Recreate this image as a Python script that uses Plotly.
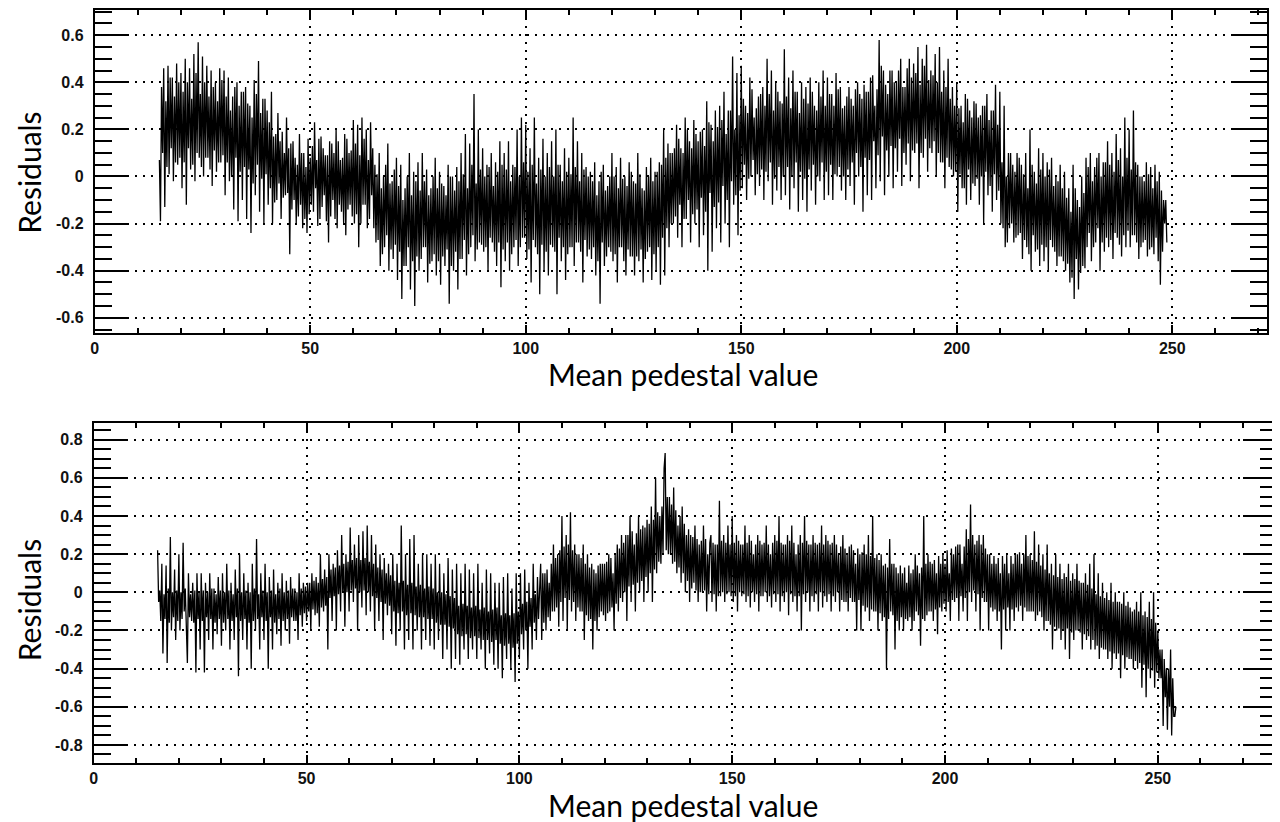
import numpy as np
import plotly.graph_objects as go

# values, every 0.5 of pedestal value starting at 15:
# the tips of the spikes (high, low pairs) ...
top_spikes = [
    0.07, -0.19, 0.46, -0.13, 0.47, 0.01, 0.42, -0.02, 0.48, 0.05,
    0.44, -0.05, 0.5, -0.12, 0.46, 0.03, 0.52, -0.02, 0.57, 0.08,
    0.51, 0.0, 0.47, 0.08, 0.45, -0.04, 0.4, 0.02, 0.46, 0.06,
    0.45, -0.08, 0.42, -0.02, 0.34, -0.14, 0.4, -0.19, 0.36, -0.1,
    0.38, -0.18, 0.3, -0.24, 0.41, -0.08, 0.49, -0.15, 0.33, -0.2,
    0.28, -0.12, 0.36, -0.2, 0.18, -0.1, 0.15, -0.18, 0.1, -0.08,
    0.12, -0.33, 0.15, -0.1, 0.05, -0.17, 0.1, -0.22, 0.04, -0.24,
    0.08, -0.12, 0.23, -0.05, 0.16, -0.18, 0.12, -0.08, 0.09, -0.28,
    0.14, -0.1, 0.2, -0.22, 0.07, -0.15, 0.18, -0.25, 0.1, -0.12,
    0.24, -0.2, 0.22, -0.3, 0.25, -0.12, 0.2, -0.22, 0.23, -0.08,
    0.05, -0.28, 0.1, -0.38, 0.0, -0.3, 0.14, -0.4, -0.02, -0.35,
    0.08, -0.44, 0.05, -0.52, -0.05, -0.38, 0.1, -0.48, 0.02, -0.55,
    0.06, -0.4, 0.1, -0.3, 0.03, -0.45, -0.05, -0.36, 0.08, -0.42,
    0.02, -0.46, -0.04, -0.38, 0.05, -0.54, 0.0, -0.4, 0.04, -0.48,
    0.1, -0.35, 0.18, -0.42, 0.14, -0.3, 0.35, -0.36, 0.2, -0.28,
    0.12, -0.32, 0.05, -0.4, 0.1, -0.28, 0.06, -0.38, 0.15, -0.47,
    0.1, -0.36, 0.15, -0.4, 0.05, -0.3, 0.2, -0.38, 0.25, -0.26,
    0.22, -0.35, 0.12, -0.45, 0.25, -0.3, 0.08, -0.5, 0.16, -0.4,
    0.1, -0.42, 0.15, -0.3, 0.2, -0.5, 0.05, -0.36, 0.12, -0.44,
    0.08, -0.3, 0.25, -0.38, 0.15, -0.28, 0.1, -0.45, 0.04, -0.34,
    0.02, -0.35, 0.06, -0.42, -0.02, -0.54, 0.05, -0.38, -0.04, -0.3,
    0.1, -0.36, 0.04, -0.45, 0.08, -0.3, 0.0, -0.42, 0.06, -0.34,
    -0.02, -0.42, 0.1, -0.36, -0.05, -0.45, 0.04, -0.32, 0.08, -0.44,
    0.02, -0.4, 0.06, -0.46, 0.2, -0.42, 0.14, -0.3, 0.1, -0.2,
    0.22, -0.26, 0.12, -0.3, 0.25, -0.18, 0.15, -0.28, 0.24, -0.2,
    0.15, -0.3, 0.2, -0.25, 0.32, -0.4, 0.22, -0.32, 0.28, -0.22,
    0.3, -0.28, 0.36, -0.2, 0.28, -0.3, 0.51, -0.12, 0.44, -0.25,
    0.47, -0.05, 0.3, -0.1, 0.42, 0.0, 0.25, -0.08, 0.34, -0.04,
    0.38, -0.1, 0.5, -0.02, 0.45, -0.12, 0.4, -0.06, 0.32, -0.1,
    0.54, -0.08, 0.42, -0.14, 0.45, -0.05, 0.36, -0.15, 0.4, -0.1,
    0.38, -0.15, 0.42, -0.06, 0.3, -0.12, 0.4, -0.02, 0.45, -0.1,
    0.42, -0.08, 0.35, -0.1, 0.44, 0.0, 0.38, -0.06, 0.3, -0.1,
    0.38, -0.04, 0.3, -0.12, 0.4, 0.0, 0.33, -0.15, 0.36, -0.08,
    0.42, -0.1, 0.3, -0.05, 0.58, -0.02, 0.45, -0.08, 0.35, 0.0,
    0.45, -0.05, 0.4, 0.02, 0.5, -0.04, 0.38, 0.05, 0.5, -0.02,
    0.48, 0.1, 0.55, -0.05, 0.5, 0.08, 0.56, 0.02, 0.45, 0.1,
    0.52, 0.0, 0.55, 0.06, 0.45, -0.05, 0.5, 0.04, 0.38, 0.0,
    0.4, -0.15, 0.3, -0.05, 0.35, -0.12, 0.28, -0.1, 0.32, -0.04,
    0.25, -0.12, 0.3, -0.2, 0.35, -0.08, 0.28, -0.15, 0.39, -0.1,
    0.36, -0.2, 0.3, -0.3, 0.1, -0.22, 0.05, -0.28, 0.1, -0.25,
    0.05, -0.35, 0.1, -0.3, 0.2, -0.4, 0.02, -0.32, 0.12, -0.38,
    0.1, -0.36, 0.06, -0.4, 0.08, -0.3, 0.0, -0.38, 0.05, -0.34,
    0.02, -0.4, -0.05, -0.45, 0.05, -0.52, -0.1, -0.48, 0.0, -0.38,
    0.08, -0.3, 0.1, -0.36, 0.04, -0.28, 0.1, -0.4, 0.06, -0.32,
    0.15, -0.3, 0.1, -0.35, 0.18, -0.26, 0.12, -0.34, 0.25, -0.3,
    0.2, -0.3, 0.28, -0.25, 0.05, -0.35, 0.0, -0.28, 0.06, -0.34,
    0.04, -0.3, 0.05, -0.26, 0.02, -0.46, -0.1, -0.2,
]
# ... and the edges of the dense band between them
top_core = [
    0.38, 0.1, 0.32, 0.04, 0.42, 0.12, 0.34, 0.06, 0.4, 0.08,
    0.36, 0.06, 0.4, 0.12, 0.33, 0.05, 0.44, 0.1, 0.35, 0.04,
    0.4, 0.08, 0.34, 0.03, 0.38, 0.11, 0.32, 0.06, 0.41, 0.09,
    0.34, 0.06, 0.28, 0.0, 0.38, 0.08, 0.3, 0.02, 0.36, 0.04,
    0.31, 0.03, 0.25, -0.03, 0.35, 0.05, 0.27, -0.01, 0.33, 0.01,
    0.23, -0.05, 0.17, -0.11, 0.27, -0.03, 0.19, -0.09, 0.25, -0.07,
    0.14, -0.14, 0.08, -0.2, 0.18, -0.12, 0.1, -0.18, 0.16, -0.16,
    0.13, -0.15, 0.07, -0.21, 0.17, -0.13, 0.09, -0.19, 0.15, -0.17,
    0.1, -0.18, 0.15, -0.12, 0.08, -0.2, 0.16, -0.14, 0.11, -0.17,
    0.14, -0.16, 0.09, -0.2, 0.16, -0.12, 0.07, -0.18, 0.12, -0.22,
    0.01, -0.27, -0.05, -0.33, 0.05, -0.25, -0.03, -0.31, 0.03, -0.29,
    -0.04, -0.32, -0.1, -0.38, 0.0, -0.3, -0.08, -0.36, -0.02, -0.34,
    -0.06, -0.35, -0.02, -0.3, -0.08, -0.37, 0.0, -0.33, -0.05, -0.36,
    -0.03, -0.34, -0.08, -0.31, 0.0, -0.38, -0.06, -0.32, -0.02, -0.35,
    0.01, -0.27, -0.05, -0.33, 0.05, -0.25, -0.03, -0.31, 0.03, -0.29,
    0.0, -0.3, 0.04, -0.26, -0.04, -0.32, 0.02, -0.28, 0.05, -0.31,
    0.03, -0.28, -0.02, -0.33, 0.04, -0.27, 0.0, -0.3, 0.06, -0.26,
    0.02, -0.31, 0.05, -0.27, -0.03, -0.33, 0.03, -0.29, 0.0, -0.32,
    0.04, -0.29, 0.0, -0.32, 0.05, -0.26, -0.02, -0.3, 0.02, -0.33,
    0.01, -0.3, 0.04, -0.28, -0.02, -0.32, 0.03, -0.27, 0.0, -0.31,
    -0.02, -0.3, -0.08, -0.36, 0.02, -0.28, -0.06, -0.34, 0.0, -0.32,
    0.0, -0.33, -0.05, -0.3, -0.01, -0.36, -0.04, -0.31, 0.02, -0.34,
    -0.03, -0.34, 0.01, -0.31, -0.06, -0.35, 0.0, -0.3, -0.02, -0.33,
    0.02, -0.3, 0.05, -0.26, 0.08, -0.22, 0.1, -0.2, 0.12, -0.17,
    0.16, -0.12, 0.1, -0.18, 0.2, -0.1, 0.12, -0.16, 0.18, -0.14,
    0.19, -0.09, 0.13, -0.15, 0.23, -0.07, 0.15, -0.13, 0.21, -0.11,
    0.24, -0.04, 0.18, -0.1, 0.28, -0.02, 0.2, -0.08, 0.26, -0.06,
    0.33, 0.05, 0.27, -0.01, 0.37, 0.07, 0.29, 0.01, 0.35, 0.03,
    0.3, 0.02, 0.35, 0.06, 0.28, -0.01, 0.36, 0.04, 0.31, 0.0,
    0.34, 0.04, 0.29, 0.0, 0.36, 0.06, 0.27, 0.02, 0.33, -0.01,
    0.31, 0.03, 0.36, 0.05, 0.28, 0.0, 0.34, 0.06, 0.3, 0.02,
    0.35, 0.05, 0.3, 0.01, 0.37, 0.04, 0.29, 0.0, 0.34, 0.03,
    0.33, 0.06, 0.37, 0.1, 0.35, 0.04, 0.39, 0.08, 0.36, 0.07,
    0.43, 0.15, 0.37, 0.09, 0.47, 0.17, 0.39, 0.11, 0.45, 0.13,
    0.4, 0.12, 0.45, 0.16, 0.38, 0.1, 0.46, 0.14, 0.42, 0.11,
    0.44, 0.14, 0.39, 0.1, 0.47, 0.16, 0.41, 0.12, 0.43, 0.15,
    0.4, 0.1, 0.36, 0.06, 0.38, 0.08, 0.33, 0.03, 0.3, 0.02,
    0.29, 0.01, 0.23, -0.05, 0.33, 0.03, 0.25, -0.03, 0.31, -0.01,
    0.26, 0.0, 0.3, 0.02, 0.24, -0.04, 0.28, 0.01, 0.22, -0.06,
    0.06, -0.22, 0.0, -0.28, 0.1, -0.2, 0.02, -0.26, 0.08, -0.24,
    0.01, -0.27, -0.05, -0.33, 0.05, -0.25, -0.03, -0.31, 0.03, -0.29,
    0.0, -0.3, 0.03, -0.27, -0.04, -0.32, -0.02, -0.34, -0.05, -0.36,
    -0.09, -0.37, -0.15, -0.43, -0.05, -0.35, -0.13, -0.41, -0.07, -0.39,
    0.04, -0.24, -0.02, -0.3, 0.08, -0.22, 0.0, -0.28, 0.06, -0.26,
    0.05, -0.27, 0.02, -0.24, 0.07, -0.29, 0.0, -0.25, 0.08, -0.23,
    0.03, -0.25, 0.06, -0.28, 0.0, -0.3, -0.02, -0.27, 0.01, -0.31,
    -0.05, -0.33, -0.02, -0.36, -0.06, -0.32, -0.1, -0.28,
]

bot_spikes = [
    0.22, -0.05, 0.15, -0.32, 0.14, -0.37, 0.29, -0.2, 0.12, -0.25,
    0.2, -0.2, 0.26, -0.1, -0.37, 0.1, -0.15, 0.05, -0.42, 0.1,
    -0.3, 0.1, -0.42, 0.05, -0.25, 0.1, -0.3, 0.02, -0.22, 0.08,
    -0.28, 0.1, -0.2, 0.15, -0.3, 0.05, -0.25, 0.12, -0.44, 0.2,
    -0.25, 0.1, -0.3, 0.05, -0.4, 0.15, -0.2, 0.28, -0.3, 0.1,
    -0.25, 0.15, -0.4, 0.08, -0.3, 0.12, -0.22, 0.05, -0.28, 0.1,
    -0.2, 0.06, -0.27, 0.08, -0.15, 0.02, -0.25, 0.1, -0.18, 0.05,
    -0.15, 0.05, -0.2, 0.1, -0.12, 0.08, -0.18, 0.2, -0.1, 0.12,
    -0.3, 0.2, -0.15, 0.15, -0.2, 0.22, -0.1, 0.3, -0.18, 0.2,
    -0.1, 0.34, -0.05, 0.25, -0.2, 0.3, -0.08, 0.32, -0.12, 0.35,
    -0.1, 0.3, -0.2, 0.25, -0.15, 0.2, -0.25, 0.18, -0.12, 0.15,
    -0.22, 0.2, -0.28, 0.15, -0.2, 0.35, -0.3, 0.2, -0.25, 0.28,
    -0.3, 0.3, -0.2, 0.15, -0.3, 0.2, -0.25, 0.2, -0.28, 0.15,
    -0.3, 0.2, -0.25, 0.15, -0.35, 0.1, -0.3, 0.18, -0.4, 0.12,
    -0.35, 0.15, -0.38, 0.1, -0.3, 0.15, -0.35, 0.12, -0.3, 0.1,
    -0.35, 0.15, -0.3, 0.05, -0.4, 0.12, -0.32, 0.1, -0.38, 0.05,
    -0.4, 0.05, -0.45, 0.08, -0.35, 0.1, -0.4, 0.02, -0.47, 0.1,
    -0.35, 0.1, -0.3, 0.12, -0.4, 0.05, -0.3, 0.15, -0.25, 0.08,
    0.15, -0.25, 0.1, -0.2, 0.05, -0.15, 0.25, -0.1, 0.2, -0.18,
    0.4, -0.15, 0.3, -0.2, 0.42, -0.1, 0.25, -0.15, 0.2, -0.1,
    0.25, -0.25, 0.2, -0.15, 0.15, -0.3, 0.1, -0.2, 0.15, -0.1,
    0.15, -0.15, 0.2, -0.1, 0.1, -0.2, 0.25, -0.1, 0.3, -0.05,
    0.3, -0.15, 0.4, -0.05, 0.25, -0.1, 0.4, 0.0, 0.35, -0.05,
    0.38, 0.0, 0.45, -0.05, 0.6, 0.1, 0.4, 0.15, 0.65, 0.73,
    0.2, 0.5, 0.15, 0.55, 0.1, 0.35, 0.05, 0.45, 0.0, 0.3,
    -0.05, 0.3, 0.05, 0.35, -0.05, 0.25, 0.0, 0.35, -0.1, 0.2,
    0.3, -0.05, 0.25, -0.1, 0.48, -0.02, 0.3, -0.05, 0.35, 0.0,
    0.4, -0.05, 0.3, -0.1, 0.25, -0.02, 0.35, -0.05, 0.3, -0.08,
    0.2, -0.05, 0.3, -0.1, 0.25, -0.02, 0.35, -0.05, 0.2, -0.08,
    0.3, -0.05, 0.4, -0.1, 0.25, -0.05, 0.3, -0.12, 0.35, -0.05,
    0.2, -0.1, 0.3, -0.2, 0.4, -0.05, 0.25, -0.1, 0.3, -0.05,
    0.25, -0.1, 0.35, -0.08, 0.3, -0.05, 0.25, -0.1, 0.3, -0.05,
    0.2, -0.1, 0.3, -0.05, 0.2, -0.1, 0.25, -0.05, 0.15, -0.2,
    0.2, -0.2, 0.25, -0.1, 0.3, -0.15, 0.4, -0.1, 0.2, -0.2,
    0.2, -0.15, 0.15, -0.4, 0.28, -0.1, 0.15, -0.3, 0.1, -0.2,
    0.1, -0.2, 0.05, -0.15, 0.1, -0.2, 0.2, -0.1, 0.1, -0.28,
    0.4, -0.15, 0.2, -0.1, 0.15, -0.15, 0.1, -0.22, 0.15, -0.1,
    0.15, -0.1, 0.1, -0.15, 0.2, -0.05, 0.25, -0.15, 0.15, -0.1,
    0.33, -0.15, 0.46, -0.05, 0.25, -0.1, 0.3, -0.2, 0.3, -0.05,
    0.2, -0.2, 0.15, -0.1, 0.15, -0.15, 0.1, -0.3, 0.15, -0.2,
    0.1, -0.2, 0.15, -0.15, 0.2, -0.1, 0.15, -0.15, 0.3, -0.1,
    0.2, -0.1, 0.32, -0.15, 0.25, -0.1, 0.2, -0.2, 0.25, -0.15,
    0.15, -0.3, 0.2, -0.2, 0.15, -0.25, 0.1, -0.3, 0.15, -0.35,
    0.1, -0.25, 0.15, -0.2, 0.05, -0.3, 0.1, -0.25, 0.15, -0.3,
    0.2, -0.3, 0.1, -0.35, 0.05, -0.3, 0.0, -0.35, 0.05, -0.4,
    0.0, -0.35, -0.05, -0.45, 0.0, -0.4, -0.05, -0.35, -0.1, -0.4,
    -0.05, -0.4, 0.0, -0.5, -0.1, -0.55, -0.05, -0.45, 0.0, -0.5,
    -0.2, -0.45, -0.3, -0.7, -0.4, -0.72, -0.3, -0.75, -0.65,
]
bot_core = [
    0.01, -0.15, -0.01, -0.14, 0.02, -0.16, 0.0, -0.13, 0.01, -0.15,
    0.0, -0.14, 0.02, -0.15, -0.01, -0.13, 0.01, -0.16, 0.0, -0.14,
    0.01, -0.15, 0.0, -0.13, 0.02, -0.14, -0.01, -0.16, 0.01, -0.14,
    0.0, -0.16, 0.01, -0.14, -0.01, -0.15, 0.02, -0.13, 0.0, -0.15,
    0.01, -0.14, 0.0, -0.16, 0.02, -0.15, -0.01, -0.14, 0.01, -0.13,
    0.0, -0.15, 0.01, -0.13, -0.01, -0.16, 0.02, -0.14, 0.0, -0.15,
    0.01, -0.14, 0.02, -0.13, 0.0, -0.15, 0.02, -0.12, 0.03, -0.11,
    0.05, -0.1, 0.06, -0.09, 0.05, -0.11, 0.07, -0.08, 0.08, -0.07,
    0.12, -0.03, 0.13, -0.02, 0.14, -0.01, 0.15, 0.0, 0.16, 0.0,
    0.17, 0.01, 0.18, 0.02, 0.17, 0.0, 0.18, 0.01, 0.16, 0.0,
    0.15, -0.02, 0.13, -0.03, 0.12, -0.05, 0.1, -0.06, 0.09, -0.07,
    0.06, -0.1, 0.05, -0.11, 0.06, -0.1, 0.04, -0.12, 0.05, -0.11,
    0.03, -0.12, 0.04, -0.13, 0.02, -0.13, 0.03, -0.14, 0.02, -0.14,
    0.0, -0.16, 0.0, -0.17, -0.01, -0.17, -0.02, -0.18, -0.03, -0.19,
    -0.07, -0.22, -0.06, -0.23, -0.07, -0.22, -0.08, -0.24, -0.07, -0.23,
    -0.09, -0.24, -0.08, -0.25, -0.1, -0.25, -0.09, -0.26, -0.08, -0.25,
    -0.12, -0.27, -0.11, -0.28, -0.12, -0.27, -0.11, -0.29, -0.1, -0.27,
    -0.06, -0.22, -0.05, -0.2, -0.03, -0.18, -0.01, -0.16, 0.01, -0.14,
    0.1, -0.16, 0.12, -0.13, 0.15, -0.1, 0.18, -0.08, 0.22, -0.05,
    0.24, -0.03, 0.25, -0.04, 0.22, -0.05, 0.2, -0.08, 0.18, -0.1,
    0.15, -0.12, 0.13, -0.14, 0.12, -0.15, 0.14, -0.13, 0.15, -0.12,
    0.16, -0.11, 0.18, -0.08, 0.2, -0.06, 0.23, -0.03, 0.26, 0.0,
    0.3, 0.03, 0.32, 0.04, 0.31, 0.05, 0.33, 0.06, 0.34, 0.08,
    0.36, 0.1, 0.38, 0.12, 0.42, 0.16, 0.45, 0.2, 0.5, 0.22,
    0.46, 0.2, 0.43, 0.16, 0.4, 0.13, 0.36, 0.1, 0.33, 0.06,
    0.29, 0.02, 0.28, 0.01, 0.27, 0.0, 0.28, 0.01, 0.26, -0.01,
    0.26, -0.01, 0.25, -0.02, 0.27, 0.0, 0.26, -0.01, 0.25, -0.02,
    0.26, -0.02, 0.27, 0.0, 0.25, -0.01, 0.26, -0.02, 0.27, 0.0,
    0.25, -0.01, 0.27, -0.02, 0.26, 0.0, 0.25, -0.02, 0.26, -0.01,
    0.27, -0.01, 0.26, -0.02, 0.25, 0.0, 0.27, -0.01, 0.26, -0.02,
    0.25, -0.02, 0.26, -0.01, 0.27, 0.0, 0.25, -0.02, 0.26, -0.01,
    0.26, 0.0, 0.25, -0.02, 0.27, -0.01, 0.26, -0.02, 0.25, 0.0,
    0.24, -0.04, 0.23, -0.05, 0.24, -0.03, 0.22, -0.05, 0.23, -0.04,
    0.21, -0.07, 0.2, -0.08, 0.19, -0.09, 0.18, -0.1, 0.17, -0.11,
    0.14, -0.13, 0.13, -0.14, 0.15, -0.12, 0.13, -0.15, 0.14, -0.13,
    0.13, -0.14, 0.14, -0.13, 0.12, -0.15, 0.14, -0.12, 0.13, -0.14,
    0.15, -0.12, 0.16, -0.1, 0.17, -0.09, 0.19, -0.08, 0.2, -0.06,
    0.22, -0.05, 0.23, -0.04, 0.24, -0.03, 0.25, -0.02, 0.24, -0.03,
    0.28, 0.0, 0.3, 0.01, 0.27, -0.01, 0.25, -0.03, 0.23, -0.05,
    0.2, -0.08, 0.19, -0.09, 0.18, -0.1, 0.19, -0.09, 0.2, -0.08,
    0.19, -0.09, 0.2, -0.08, 0.21, -0.07, 0.2, -0.08, 0.19, -0.1,
    0.17, -0.1, 0.16, -0.12, 0.14, -0.13, 0.12, -0.15, 0.1, -0.17,
    0.09, -0.18, 0.08, -0.19, 0.07, -0.2, 0.08, -0.19, 0.06, -0.21,
    0.07, -0.2, 0.06, -0.21, 0.05, -0.22, 0.04, -0.23, 0.02, -0.25,
    -0.01, -0.28, -0.02, -0.29, -0.03, -0.3, -0.04, -0.31, -0.05, -0.32,
    -0.05, -0.32, -0.06, -0.33, -0.07, -0.34, -0.08, -0.35, -0.09, -0.36,
    -0.1, -0.37, -0.12, -0.38, -0.13, -0.4, -0.14, -0.41, -0.16, -0.42,
    -0.3, -0.45, -0.35, -0.55, -0.4, -0.6, -0.45, -0.65, -0.6,
]
x_start = 15.0

x_ticks = [0, 50, 100, 150, 200, 250]
x_labels = ["0", "50", "100", "150", "200", "250"]
y_top_ticks = [-0.6, -0.4, -0.2, 0, 0.2, 0.4, 0.6]
y_top_labels = ["-0.6", "-0.4", "-0.2", "0", "0.2", "0.4", "0.6"]
y_bot_ticks = [-0.8, -0.6, -0.4, -0.2, 0, 0.2, 0.4, 0.6, 0.8]
y_bot_labels = ["-0.8", "-0.6", "-0.4", "-0.2", "0", "0.2", "0.4", "0.6", "0.8"]


def interleave(spikes, core):
    # a spike pair, then a band pair: one point every 0.25;
    # the band pair runs the same way as the spike pair so the trace keeps zigzagging
    out = []
    for k in range(0, len(spikes), 2):
        pair = spikes[k:k + 2]
        band = core[k:k + 2]
        if len(pair) == 2 and len(band) == 2:
            band = sorted(band, reverse=pair[0] > pair[1])
        out += pair + band
    return out


resid_top = interleave(top_spikes, top_core)
resid_bot = interleave(bot_spikes, bot_core)
x_top = x_start + 0.25 * np.arange(len(resid_top))
x_bot = x_start + 0.25 * np.arange(len(resid_bot))

# the page body adds an 8px margin, so the figure is 8px smaller each way
W, H = 1272, 814

fig = go.Figure()
fig.add_trace(go.Scatter(x=x_top, y=resid_top, mode='lines',
                         line=dict(color='black', width=1.3),
                         xaxis='x', yaxis='y', showlegend=False))
fig.add_trace(go.Scatter(x=x_bot, y=resid_bot, mode='lines',
                         line=dict(color='black', width=1.3),
                         xaxis='x2', yaxis='y2', showlegend=False))

tick_font = dict(family='Liberation Sans', size=16, color='#111', weight='bold')


def x_axis(domain, rng, anchor):
    return dict(
        domain=domain, range=rng, anchor=anchor,
        tickmode='array', tickvals=x_ticks, ticktext=x_labels,
        ticks='inside', ticklen=8, tickwidth=1.5, tickcolor='black',
        minor=dict(tickmode='linear', tick0=0, dtick=10, ticks='inside',
                   ticklen=5, tickwidth=1.5, tickcolor='black', showgrid=False),
        showline=True, linewidth=2, linecolor='black', mirror='allticks',
        showgrid=True, gridcolor='black', gridwidth=1.5, griddash='2px,6px',
        zeroline=False, tickfont=tick_font, ticklabelstandoff=0,
    )


def y_axis(domain, rng, anchor, vals, labels):
    return dict(
        domain=domain, range=rng, anchor=anchor,
        tickmode='array', tickvals=vals, ticktext=labels,
        ticks='inside', ticklen=34, tickwidth=1.5, tickcolor='black',
        minor=dict(tickmode='linear', tick0=0, dtick=0.05, ticks='inside',
                   ticklen=17, tickwidth=1.5, tickcolor='black', showgrid=False),
        showline=True, linewidth=2, linecolor='black', mirror='allticks',
        showgrid=True, gridcolor='black', gridwidth=1.5, griddash='2px,6px',
        zeroline=False, tickfont=tick_font, ticklabelstandoff=6,
    )


fig.update_layout(
    width=W, height=H,
    margin=dict(l=0, r=0, t=0, b=0),
    paper_bgcolor='white', plot_bgcolor='white',
    xaxis=x_axis([83 / W, 1259 / W], [0, 272], 'y'),
    yaxis=y_axis([(H - 324) / H, (H - 1.5) / H], [-0.663, 0.705], 'x',
                 y_top_ticks, y_top_labels),
    xaxis2=x_axis([82 / W, 1269 / W], [0, 278], 'y2'),
    yaxis2=y_axis([(H - 755) / H, (H - 415) / H], [-0.895, 0.885], 'x2',
                  y_bot_ticks, y_bot_labels),
)

title_font = dict(family='Lato', size=30, color='black')
for ty, yt in [(365, 164), (797, 592)]:
    fig.add_annotation(text='Mean pedestal value', xref='paper', yref='paper',
                       x=673 / W, y=1 - ty / H, showarrow=False,
                       font=title_font, xanchor='center', yanchor='middle')
    fig.add_annotation(text='Residuals', xref='paper', yref='paper',
                       x=17 / W, y=1 - yt / H, showarrow=False, textangle=-90,
                       font=title_font, xanchor='center', yanchor='middle')

fig.write_html("out.html")
